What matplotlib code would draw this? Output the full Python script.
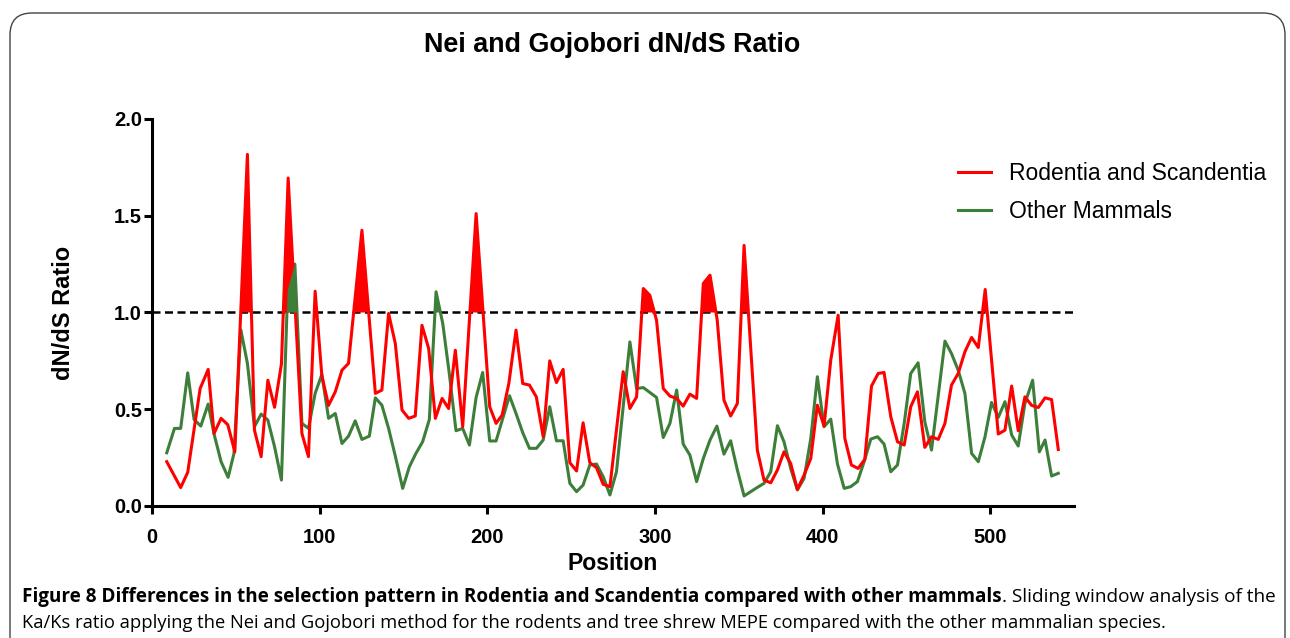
import matplotlib
matplotlib.use("Agg")
import matplotlib.pyplot as plt
import numpy as np
from matplotlib.patches import FancyBboxPatch
from matplotlib.transforms import IdentityTransform

# sliding window dN/dS
rod_pos = [8.9, 17.2, 21.4, 28.8, 33.6, 37.1, 41.3, 45.3, 49.5, 57.0,
           61.2, 65.2, 69.2, 73.2, 77.3, 81.3, 89.5, 93.4, 97.4, 101.4,
           105.4, 109.4, 113.4, 117.3, 125.3, 133.3, 137.2, 141.2, 145.2, 149.2,
           153.2, 157.1, 161.1, 165.1, 169.1, 173.1, 177.0, 181.0, 185.4, 193.4,
           201.5, 205.3, 208.9, 212.9, 217.2, 221.2, 225.2, 229.3, 233.4, 237.3,
           241.3, 245.3, 249.3, 253.3, 257.2, 261.2, 265.2, 269.2, 273.2, 281.1,
           285.1, 289.1, 293.1, 297.0, 301.0, 305.0, 309.0, 313.0, 316.9, 320.9,
           324.9, 328.9, 332.9, 337.2, 341.2, 345.2, 349.2, 353.2, 361.1, 365.1,
           369.1, 373.1, 377.0, 381.0, 385.0, 389.0, 393.0, 396.9, 400.9, 404.9,
           409.3, 413.3, 417.2, 421.2, 425.2, 429.2, 433.2, 436.7, 440.7, 444.7,
           448.7, 452.6, 456.6, 461.0, 465.0, 469.0, 473.0, 476.9, 480.9, 484.9,
           488.9, 492.9, 497.0, 504.8, 508.8, 512.8, 516.7, 520.7, 524.7, 528.7,
           532.7, 536.6, 540.6]
rod_val = [0.229, 0.095, 0.174, 0.607, 0.706, 0.375, 0.453, 0.42, 0.28, 1.817,
           0.392, 0.255, 0.65, 0.51, 0.735, 1.695, 0.375, 0.255, 1.11, 0.672,
           0.52, 0.59, 0.702, 0.737, 1.425, 0.582, 0.599, 0.995, 0.84, 0.496,
           0.453, 0.465, 0.934, 0.814, 0.453, 0.556, 0.504, 0.805, 0.41, 1.511,
           0.513, 0.427, 0.47, 0.633, 0.909, 0.633, 0.625, 0.564, 0.358, 0.75,
           0.638, 0.706, 0.224, 0.181, 0.43, 0.224, 0.198, 0.112, 0.1, 0.694,
           0.504, 0.564, 1.124, 1.089, 0.96, 0.607, 0.568, 0.556, 0.516, 0.578,
           0.556, 1.15, 1.193, 0.96, 0.547, 0.465, 0.53, 1.347, 0.289, 0.134,
           0.12, 0.186, 0.28, 0.22, 0.086, 0.16, 0.246, 0.521, 0.413, 0.754,
           0.986, 0.349, 0.212, 0.194, 0.241, 0.62, 0.685, 0.69, 0.461, 0.332,
           0.315, 0.513, 0.59, 0.303, 0.358, 0.344, 0.427, 0.625, 0.685, 0.797,
           0.871, 0.819, 1.119, 0.372, 0.392, 0.62, 0.389, 0.564, 0.52, 0.509,
           0.559, 0.55, 0.292]

oth_pos = [8.9, 13.5, 17.2, 21.4, 25.2, 29.2, 33.6, 37.1, 41.3, 45.5,
           49.0, 53.1, 57.0, 61.2, 65.2, 69.2, 73.2, 77.3, 81.0, 85.3,
           89.5, 93.4, 97.4, 101.4, 105.4, 109.4, 113.4, 117.3, 121.3, 125.3,
           129.7, 133.3, 137.2, 141.2, 145.2, 149.6, 153.6, 157.5, 161.5, 165.5,
           169.5, 173.5, 177.4, 181.4, 185.4, 189.4, 193.4, 197.3, 201.5, 205.3,
           209.3, 213.3, 217.2, 221.2, 225.2, 229.4, 233.4, 237.3, 241.3, 245.3,
           249.3, 253.3, 257.2, 261.2, 265.2, 269.2, 273.2, 277.1, 285.1, 289.1,
           293.1, 297.0, 301.0, 305.0, 309.0, 313.0, 316.9, 320.9, 324.9, 328.9,
           332.9, 337.0, 341.2, 345.2, 349.2, 353.2, 357.1, 361.1, 365.1, 369.1,
           373.1, 377.0, 381.0, 385.0, 389.0, 393.0, 396.9, 400.9, 404.9, 408.9,
           412.9, 416.8, 420.8, 424.8, 428.8, 432.8, 436.7, 440.7, 444.7, 448.7,
           452.6, 457.0, 461.0, 465.0, 473.0, 476.9, 480.9, 484.9, 488.9, 492.9,
           496.9, 500.8, 504.8, 508.8, 512.8, 516.7, 520.7, 525.3, 529.3, 532.7,
           536.6, 540.6]
oth_val = [0.275, 0.401, 0.401, 0.688, 0.447, 0.413, 0.527, 0.372, 0.229, 0.148,
           0.272, 0.91, 0.737, 0.41, 0.475, 0.444, 0.306, 0.134, 1.115, 1.25,
           0.427, 0.401, 0.582, 0.68, 0.453, 0.478, 0.323, 0.361, 0.44, 0.344,
           0.361, 0.559, 0.521, 0.401, 0.258, 0.091, 0.203, 0.272, 0.332, 0.447,
           1.107, 0.943, 0.685, 0.389, 0.401, 0.315, 0.561, 0.69, 0.336, 0.336,
           0.453, 0.57, 0.478, 0.379, 0.298, 0.298, 0.341, 0.513, 0.337, 0.337,
           0.117, 0.074, 0.108, 0.212, 0.217, 0.151, 0.057, 0.177, 0.848, 0.607,
           0.612, 0.587, 0.561, 0.354, 0.427, 0.599, 0.32, 0.263, 0.126, 0.246,
           0.341, 0.413, 0.268, 0.337, 0.186, 0.052, 0.074, 0.096, 0.117, 0.177,
           0.415, 0.332, 0.194, 0.083, 0.143, 0.349, 0.668, 0.41, 0.449, 0.217,
           0.091, 0.1, 0.126, 0.229, 0.346, 0.358, 0.32, 0.177, 0.212, 0.427,
           0.685, 0.74, 0.435, 0.289, 0.852, 0.788, 0.702, 0.582, 0.272, 0.229,
           0.358, 0.535, 0.458, 0.539, 0.367, 0.31, 0.53, 0.65, 0.28, 0.341,
           0.155, 0.169]

threshold = 1.0
x_ticks = [0, 100, 200, 300, 400, 500]
y_ticks = [0.0, 0.5, 1.0, 1.5, 2.0]

RED = "#ff0000"
GREEN = "#3d7f3a"

plt.rcParams["font.family"] = ["Liberation Sans", "DejaVu Sans"]

fig = plt.figure(figsize=(12.9, 6.38), dpi=100)
ax = fig.add_axes([0.1177, 0.2069, 0.7149, 0.6066])

rx, ry = np.array(rod_pos), np.array(rod_val)
gx, gy = np.array(oth_pos), np.array(oth_val)

ax.plot(gx, gy, color=GREEN, lw=2.2, label="Other Mammals", zorder=3)
ax.plot(rx, ry, color=RED, lw=2.2, label="Rodentia and Scandentia", zorder=4)
ax.fill_between(rx, ry, threshold, where=ry > threshold, interpolate=True,
                color=RED, lw=0, zorder=4)
ax.fill_between(gx, gy, threshold, where=gy > threshold, interpolate=True,
                color=GREEN, lw=0, zorder=5)
ax.axhline(threshold, color="black", lw=1.8, ls=(0, (3.2, 1.8)), zorder=2)

ax.set_xlim(0, 550)
ax.set_ylim(0, 2.0)
ax.set_xticks(x_ticks)
ax.set_yticks(y_ticks)
ax.set_yticklabels([f"{v:.1f}" for v in y_ticks])
for side in ("top", "right"):
    ax.spines[side].set_visible(False)
for side in ("left", "bottom"):
    ax.spines[side].set_linewidth(2.2)
ax.tick_params(axis="both", width=2.2, length=5.5, labelsize=14.5)
ax.tick_params(axis="y", pad=1.5)
ax.tick_params(axis="x", pad=10)
for lab in ax.get_xticklabels() + ax.get_yticklabels():
    lab.set_fontweight("bold")

ax.set_xlabel("Position", fontsize=16.6, fontweight="bold", labelpad=4)
ax.set_ylabel("dN/dS Ratio", fontsize=17, fontweight="bold", labelpad=28)
fig.text(612 / 1290, 1 - 45 / 638, "Nei and Gojobori dN/dS Ratio",
         ha="center", va="center", fontsize=19.4, fontweight="bold")

handles, labels = ax.get_legend_handles_labels()
leg = ax.legend(handles[::-1], labels[::-1], loc="upper left",
                bbox_to_anchor=(958 / 1290, 1 - 162 / 638),
                bbox_transform=fig.transFigure, frameon=False,
                fontsize=16.5, handlelength=1.44, handletextpad=0.8,
                labelspacing=0.65, borderpad=0, borderaxespad=0)

# rounded frame around the figure panel
frame = FancyBboxPatch((10, -40), 1275, 638 - 13 + 40,
                       boxstyle="round,pad=0,rounding_size=22",
                       transform=IdentityTransform(), fill=False,
                       edgecolor="#444444", lw=1.0)
fig.patches.append(frame)

# caption: bold lead then regular text
cap_font = ["Open Sans", "DejaVu Sans"]
bold = fig.text(22 / 1290, 1 - 597 / 638,
                "Figure 8 Differences in the selection pattern in Rodentia and "
                "Scandentia compared with other mammals",
                fontsize=13.6, fontweight="bold", family=cap_font,
                ha="left", va="center")
fig.canvas.draw()
bb = bold.get_window_extent()
fig.text(bb.x1 / 1290, 1 - 597 / 638, ". Sliding window analysis of the",
         fontsize=13.7, family=cap_font, ha="left", va="center")
fig.text(22 / 1290, 1 - 623 / 638,
         "Ka/Ks ratio applying the Nei and Gojobori method for the rodents and "
         "tree shrew MEPE compared with the other mammalian species.",
         fontsize=13.2, family=cap_font, ha="left", va="center")

fig.savefig("out.png", dpi=100)
